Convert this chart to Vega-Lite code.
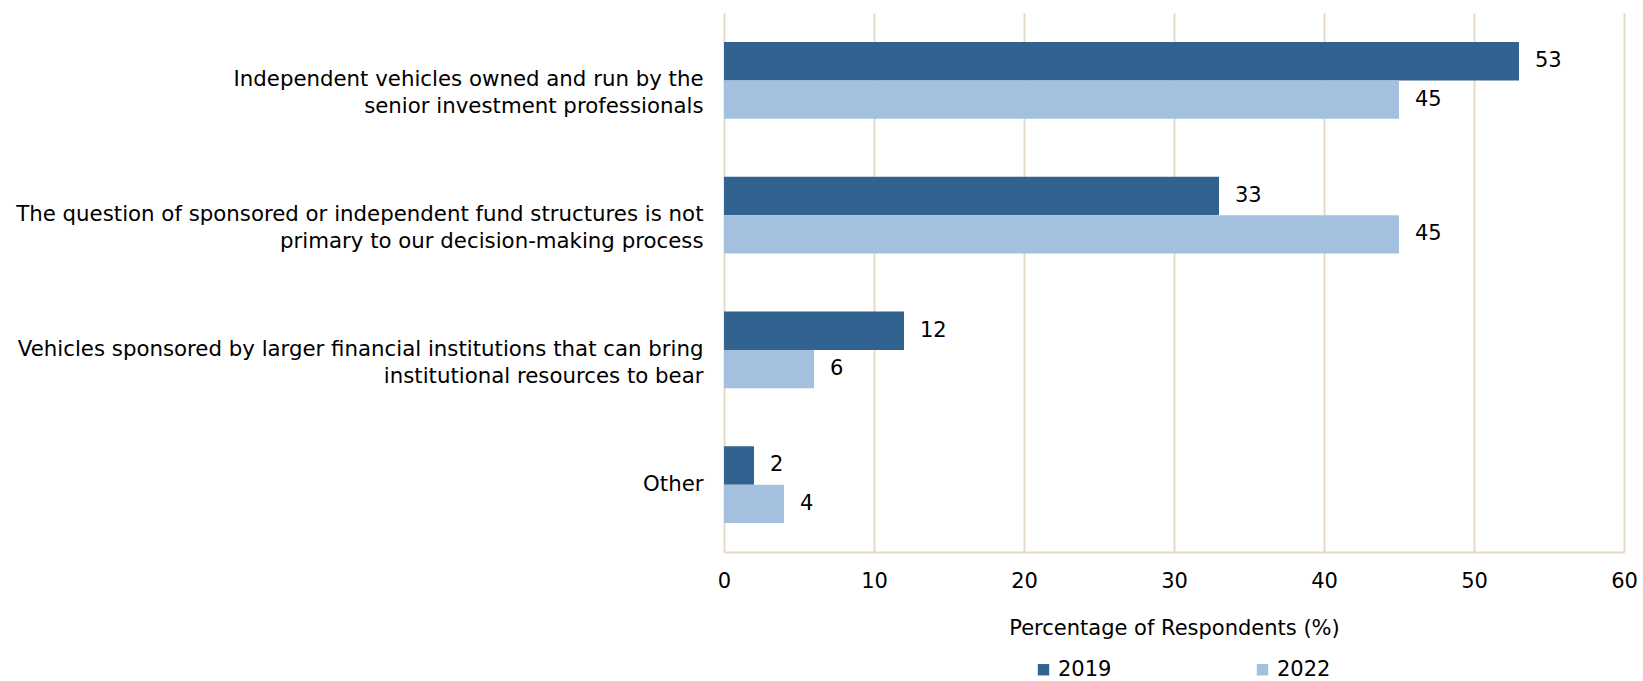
{
  "$schema": "https://vega.github.io/schema/vega-lite/v6.json",
  "autosize": {"type": "none"},
  "padding": {"left": 724, "top": 13, "right": 19, "bottom": 129},
  "width": 900,
  "height": 539,
  "config": {
    "font": "DejaVu Sans",
    "view": {"stroke": null},
    "axis": {"labelFont": "DejaVu Sans", "titleFont": "DejaVu Sans", "labelColor": "#000000", "titleColor": "#000000"}
  },
  "data": {
    "values": [
      {"category": "Independent vehicles owned and run by the|senior investment professionals", "year": "2019", "value": 53},
      {"category": "Independent vehicles owned and run by the|senior investment professionals", "year": "2022", "value": 45},
      {"category": "The question of sponsored or independent fund structures is not|primary to our decision-making process", "year": "2019", "value": 33},
      {"category": "The question of sponsored or independent fund structures is not|primary to our decision-making process", "year": "2022", "value": 45},
      {"category": "Vehicles sponsored by larger financial institutions that can bring|institutional resources to bear", "year": "2019", "value": 12},
      {"category": "Vehicles sponsored by larger financial institutions that can bring|institutional resources to bear", "year": "2022", "value": 6},
      {"category": "Other", "year": "2019", "value": 2},
      {"category": "Other", "year": "2022", "value": 4}
    ]
  },
  "encoding": {
    "y": {
      "field": "category",
      "type": "nominal",
      "sort": null,
      "scale": {"paddingInner": 0.43, "paddingOuter": 0.215},
      "axis": {
        "title": null,
        "labelExpr": "split(datum.label, '|')",
        "labelFontSize": 21.3,
        "labelLineHeight": 27,
        "labelPadding": 21,
        "labelLimit": 800,
        "ticks": false,
        "domain": false
      }
    },
    "x": {
      "field": "value",
      "type": "quantitative",
      "scale": {"domain": [0, 60]},
      "axis": {
        "title": "Percentage of Respondents (%)",
        "values": [0, 10, 20, 30, 40, 50, 60],
        "labelFontSize": 21,
        "labelFlush": false,
        "titleFontSize": 21,
        "titleFontWeight": "normal",
        "labelPadding": 18,
        "titlePadding": 26,
        "ticks": false,
        "domain": true,
        "domainColor": "#e6d9c6",
        "domainWidth": 2,
        "grid": true,
        "gridColor": "#e6d9c6",
        "gridWidth": 2
      }
    },
    "yOffset": {"field": "year", "type": "nominal", "scale": {"paddingInner": 0}}
  },
  "layer": [
    {
      "mark": {"type": "bar"},
      "encoding": {
        "color": {
          "field": "year",
          "type": "nominal",
          "scale": {"domain": ["2019", "2022"], "range": ["#32628f", "#a3c0df"]},
          "legend": {
            "title": null,
            "orient": "none",
            "legendX": 309,
            "legendY": 646,
            "direction": "horizontal",
            "symbolType": "square",
            "symbolSize": 130,
            "symbolStrokeWidth": 0,
            "labelFontSize": 21,
            "labelFont": "DejaVu Sans",
            "labelColor": "#000000",
            "labelOffset": 4,
            "columnPadding": 140
          }
        }
      }
    },
    {
      "mark": {"type": "text", "align": "left", "baseline": "middle", "dx": 16, "fontSize": 21, "color": "#000000"},
      "encoding": {"text": {"field": "value", "type": "quantitative"}}
    }
  ]
}
